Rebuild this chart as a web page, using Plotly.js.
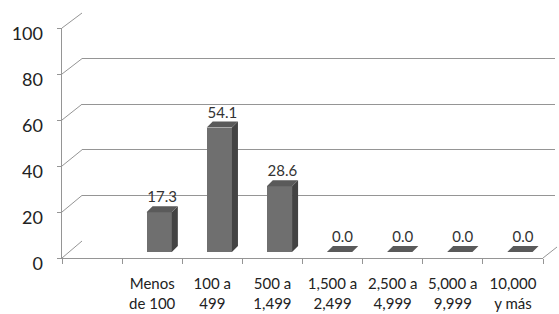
<!DOCTYPE html>
<html>
<head>
<meta charset="utf-8">
<script src="https://cdn.plot.ly/plotly-3.0.1.min.js"></script>
<style>html,body{margin:0;padding:0;background:#fff}#chart{width:559px;height:314px}</style>
</head>
<body>
<div id="chart"></div>
<script>
// ---- data ----
const categories = ["", "Menos de 100", "100 a 499", "500 a 1,499", "1,500 a 2,499", "2,500 a 4,999", "5,000 a 9,999", "10,000 y más"];
const tickLabels = ["", "Menos<br>de 100", "100 a<br>499", "500 a<br>1,499", "1,500 a<br>2,499", "2,500 a<br>4,999", "5,000 a<br>9,999", "10,000<br>y más"];
const values = [null, 17.3, 54.1, 28.6, 0.0, 0.0, 0.0, 0.0];
const yTicks = [0, 20, 40, 60, 80, 100];

// ---- geometry helpers ----
const W = 559, H = 314;
const fx = p => p / W;
const fy = p => 1 - p / H;
const idx = categories.map((_, i) => i);
const gridColor = '#959595';
const font = 'Lato, "Open Sans", sans-serif';

// 3D look parameters (in axis units of the bar subplot)
const bw = 0.42;       // bar width (category units)
const dx = 0.10;       // depth offset in x
const dy = 2.6;        // depth offset in y

const sideX = [], sideY = [], topX = [], topY = [];
idx.forEach(i => {
  const v = values[i];
  if (v === null) return;
  const r = i + bw / 2, l = i - bw / 2;
  if (v > 0) {
    sideX.push(r, r, r + dx, r + dx, r, null);
    sideY.push(0, v, v + dy, dy, 0, null);
  }
  topX.push(l, r, r + dx, l + dx, l, null);
  topY.push(v, v, v + dy, v + dy, v, null);
});

const traces = [
  {type: 'scatter', x: [], y: [], xaxis: 'x', yaxis: 'y', showlegend: false, hoverinfo: 'skip'},
  {type: 'scatter', x: [], y: [], xaxis: 'x2', yaxis: 'y2', showlegend: false, hoverinfo: 'skip'},
  {type: 'bar', x: idx, y: values, width: bw, xaxis: 'x3', yaxis: 'y3',
   marker: {color: '#6f6f6f', line: {width: 0}}, showlegend: false, hoverinfo: 'skip'},
  {type: 'scatter', mode: 'lines', x: sideX, y: sideY, xaxis: 'x3', yaxis: 'y3', fill: 'toself',
   fillcolor: '#434343', line: {width: 0}, showlegend: false, hoverinfo: 'skip'},
  {type: 'scatter', mode: 'lines', x: topX, y: topY, xaxis: 'x3', yaxis: 'y3', fill: 'toself',
   fillcolor: '#5a5a5a', line: {width: 0}, showlegend: false, hoverinfo: 'skip'},
  {type: 'scatter', mode: 'text', x: idx.map(i => i + dx / 2), y: values.map(v => v === null ? null : v + dy),
   text: values.map(v => v === null ? '' : v.toFixed(1)), textposition: 'top center',
   textfont: {family: font, size: 15, color: '#333'}, xaxis: 'x3', yaxis: 'y3', showlegend: false, hoverinfo: 'skip', cliponaxis: false},
  {type: 'scatter', x: [], y: [], xaxis: 'x4', yaxis: 'y4', showlegend: false, hoverinfo: 'skip'}
];

const shapes = [];
const frontY = v => fy(258) + v / 100 * (fy(28) - fy(258));
const backY = v => fy(241) + v / 100 * (fy(13) - fy(241));
yTicks.forEach(v => {
  shapes.push({type: 'line', xref: 'paper', yref: 'paper', x0: fx(62), y0: frontY(v), x1: fx(82), y1: backY(v),
               line: {color: gridColor, width: 1}});
});
shapes.push({type: 'line', xref: 'paper', yref: 'paper', x0: fx(543), y0: frontY(0), x1: fx(557), y1: fy(247),
             line: {color: gridColor, width: 1}});

const layout = {
  width: W, height: H,
  margin: {l: 0, r: 0, t: 0, b: 0},
  paper_bgcolor: '#fff', plot_bgcolor: 'rgba(0,0,0,0)',
  showlegend: false,
  font: {family: font, color: '#222'},
  xaxis: {domain: [fx(82), fx(555)], range: [0, 1], visible: false, fixedrange: true},
  yaxis: {domain: [fy(241), fy(13)], range: [0, 100.01], tickvals: yTicks, showticklabels: false,
          showgrid: true, gridcolor: gridColor, gridwidth: 1, zeroline: false, showline: false, ticks: '', anchor: 'x'},
  xaxis2: {domain: [fx(62), fx(543)], range: [-0.5, 7.5], anchor: 'y2', tickvals: idx.map(i => i - 0.5).concat([7.5]),
           ticks: 'outside', ticklen: 5, tickcolor: gridColor, showticklabels: false, showgrid: false, zeroline: false,
           showline: true, linecolor: gridColor, linewidth: 1},
  yaxis2: {domain: [fy(258), fy(28)], range: [0, 100], anchor: 'x2', tickvals: yTicks, ticks: 'outside', ticklen: 4,
           tickcolor: gridColor, showticklabels: false, showgrid: false, zeroline: false, showline: true, linecolor: gridColor, linewidth: 1},
  xaxis3: {domain: [fx(69), fx(550)], range: [-0.5, 7.5], anchor: 'y3', visible: false},
  yaxis3: {domain: [fy(252), fy(22)], range: [0, 100], anchor: 'x3', visible: false},
  xaxis4: {domain: [fx(62), fx(543)], range: [-0.5, 7.5], anchor: 'y4', tickvals: idx, ticktext: tickLabels,
           ticks: '', showgrid: false, zeroline: false, showline: false, ticklabelstandoff: 9,
           tickfont: {family: font, size: 15, color: '#222'}},
  yaxis4: {domain: [fy(264), fy(34)], range: [0, 100], anchor: 'x4', tickvals: yTicks, ticks: '',
           showgrid: false, zeroline: false, showline: false, ticklabelstandoff: 18,
           tickfont: {family: font, size: 18, color: '#222'}},
  shapes: shapes,
  bargap: 0
};

Plotly.newPlot('chart', traces, layout, {staticPlot: true, displayModeBar: false});
</script>
</body>
</html>
